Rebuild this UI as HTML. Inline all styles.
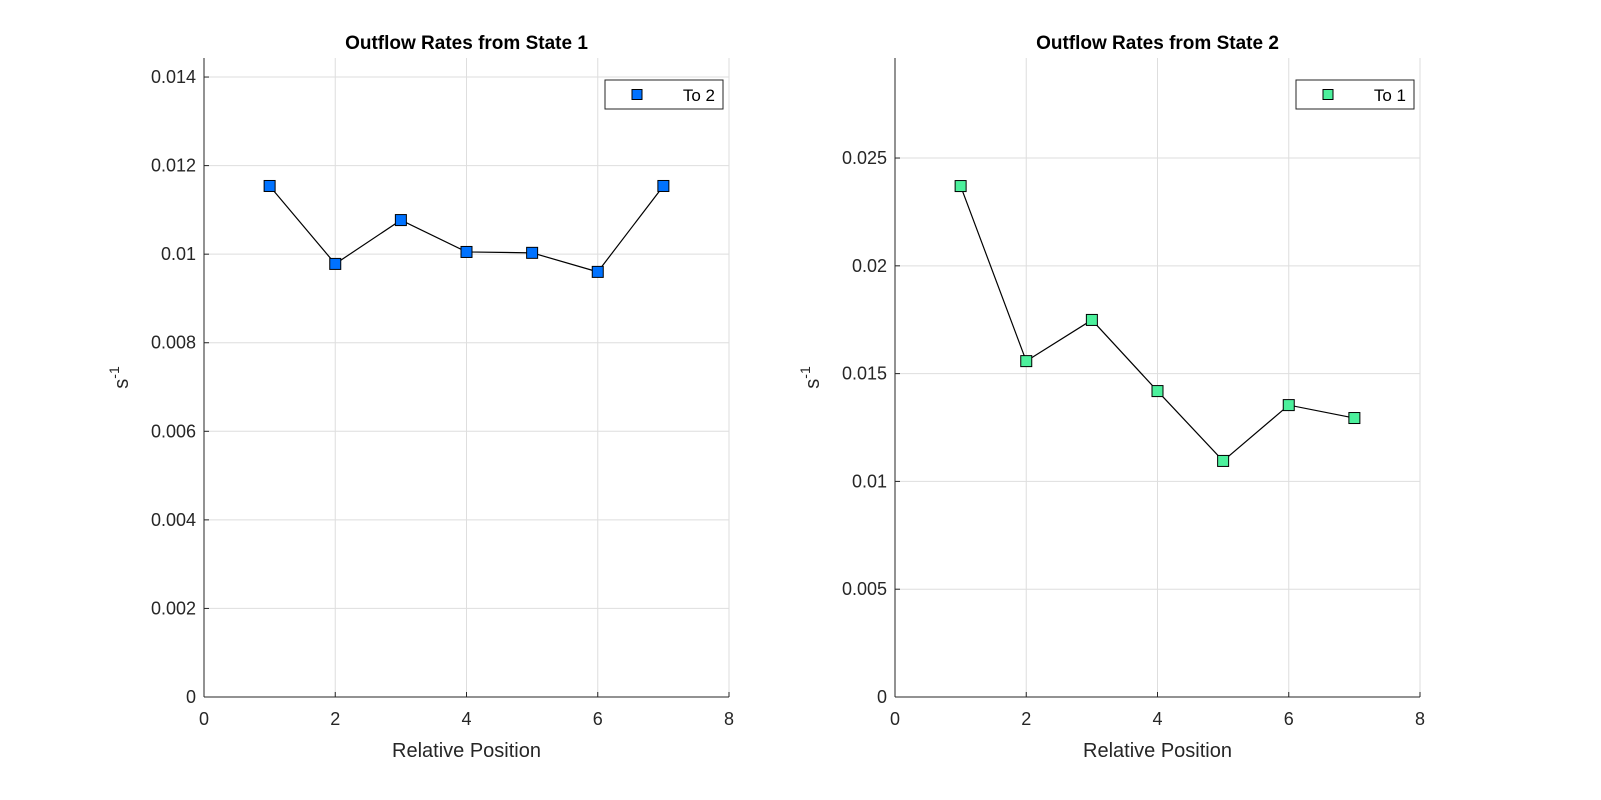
<!DOCTYPE html>
<html><head><meta charset="utf-8"><style>
body{margin:0;background:#fff;}
svg{display:block;font-family:"Liberation Sans",Arial,sans-serif;}
</style></head><body>
<svg id="c" width="1601" height="800" viewBox="0 0 1601 800"></svg>
<script>
const positions=[1,2,3,4,5,6,7];
const state1Values=[0.01154,0.00978,0.01077,0.01005,0.01003,0.0096,0.01154];
const state2Values=[0.0237,0.01558,0.01749,0.01419,0.01095,0.01354,0.01294];
const xTicks=[0,2,4,6,8];
const yTicks1=[0,0.002,0.004,0.006,0.008,0.01,0.012,0.014];
const yTicks1Labels=["0","0.002","0.004","0.006","0.008","0.01","0.012","0.014"];
const yTicks2=[0,0.005,0.01,0.015,0.02,0.025];
const yTicks2Labels=["0","0.005","0.01","0.015","0.02","0.025"];
const svg=document.getElementById('c');
const NS='http://www.w3.org/2000/svg';
function mk(t,a,p){const e=document.createElementNS(NS,t);for(const k in a)e.setAttribute(k,a[k]);(p||svg).appendChild(e);return e;}
function panel(o){
  const g=mk('g',{});
  
  
  const X=v=>o.x0+(v-0)/8*(o.x1-o.x0);
  const Y=v=>o.yb-v/o.ymax*(o.yb-o.yt);
  xTicks.forEach(t=>{
    const l=mk('line',{x1:X(t),x2:X(t),y1:o.yt,y2:o.yb,stroke:'#dedede','stroke-width':1},g);
    
  });
  o.yTicks.forEach(t=>{
    const l=mk('line',{x1:o.x0,x2:o.x1,y1:Y(t),y2:Y(t),stroke:'#dedede','stroke-width':1},g);
    
  });
  let a=mk('line',{x1:o.x0,x2:o.x0,y1:o.yt,y2:o.yb,stroke:'#262626'},g);
  
  a=mk('line',{x1:o.x0,x2:o.x1,y1:o.yb,y2:o.yb,stroke:'#262626'},g);
  
  xTicks.forEach(t=>{
    mk('line',{x1:X(t),x2:X(t),y1:o.yb,y2:o.yb-5,stroke:'#262626'},g);
    const tx=mk('text',{x:X(t),y:o.yb+28,'text-anchor':'middle','font-size':18,fill:'#262626'},g);
    tx.textContent=t;
  });
  o.yTicks.forEach((t,i)=>{
    mk('line',{x1:o.x0,x2:o.x0+5,y1:Y(t),y2:Y(t),stroke:'#262626'},g);
    const tx=mk('text',{x:o.x0-8,y:Y(t)+6,'text-anchor':'end','font-size':18,fill:'#262626'},g);
    tx.textContent=o.yLabels[i];
  });
  let t=mk('text',{x:(o.x0+o.x1)/2,y:49,'text-anchor':'middle','font-size':19,'font-weight':'bold',fill:'#000'},g);
  t.textContent=o.title;
  t=mk('text',{x:(o.x0+o.x1)/2,y:757,'text-anchor':'middle','font-size':20,fill:'#262626'},g);
  t.textContent='Relative Position';
  t=mk('text',{transform:`translate(${o.x0-76},${(o.yt+o.yb)/2}) rotate(-90)`,'text-anchor':'middle','font-size':20,fill:'#262626'},g);
  t.innerHTML='s<tspan dy="-9" font-size="14">-1</tspan>';
  const pts=positions.map((p,i)=>X(p)+','+Y(o.vals[i])).join(' ');
  const pl=mk('polyline',{points:pts,fill:'none',stroke:'#000','stroke-width':1.2},g);
  
  positions.forEach((p,i)=>{
    const r=mk('rect',{x:X(p)-5.5,y:Y(o.vals[i])-5.5,width:11,height:11,fill:o.color,stroke:'#000','stroke-width':1},g);
    
  });
  const lg=mk('g',{},g);
  
  mk('rect',{x:o.x1-124,y:80,width:118,height:29,fill:'#fff',stroke:'#262626','stroke-width':1},lg);
  mk('rect',{x:o.x1-97,y:89.5,width:10,height:10,fill:o.color,stroke:'#000'},lg);
  const lt=mk('text',{x:o.x1-14,y:101,'text-anchor':'end','font-size':17,fill:'#000'},lg);
  lt.textContent=o.legend;
}
panel({name:'panel-state-1',x0:204,x1:729,yt:58,yb:697,ymax:0.01443,yTicks:yTicks1,yLabels:yTicks1Labels,vals:state1Values,color:'#0072ff',title:'Outflow Rates from State 1',legend:'To 2'});
panel({name:'panel-state-2',x0:895,x1:1420,yt:58,yb:697,ymax:0.02964,yTicks:yTicks2,yLabels:yTicks2Labels,vals:state2Values,color:'#4cf09c',title:'Outflow Rates from State 2',legend:'To 1'});
</script>
</body></html>
